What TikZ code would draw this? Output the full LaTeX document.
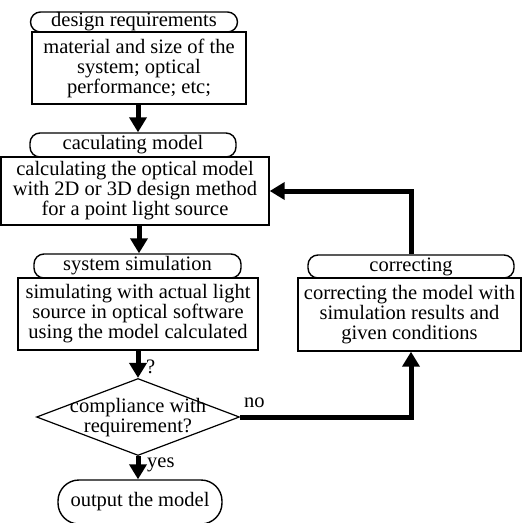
\documentclass[tikz,border=0pt]{standalone}
\usepackage{fontspec}
\setmainfont{Liberation Serif}
\newfontfamily\diagfont{Liberation Serif}
\usetikzlibrary{arrows.meta,shapes.geometric}
\begin{document}
\begin{tikzpicture}[x=1pt,y=-1pt,
  every node/.style={font=\diagfont\fontsize{20.5}{20}\selectfont, inner sep=0pt, align=center},
  pill/.style={draw, line width=1.4pt, rounded corners=10pt},
  box/.style={draw, line width=1.4pt},
  arr/.style={line width=5pt, -{Triangle[length=15pt,width=17pt]}},
  lbl/.style={font=\diagfont\fontsize{20.5}{20}\selectfont}]
\useasboundingbox (0,0) rectangle (522,523);
\node[pill, minimum width=207, minimum height=20] (reqpill) at (134,22) {design requirements};
\node[box, minimum width=214, minimum height=72] (reqbox) at (139,68) {material and size of the\\system; optical\\performance; etc;};
\node[pill, minimum width=206, minimum height=24] (calcpill) at (133,145) {caculating model};
\node[box, minimum width=268, minimum height=68] (calcbox) at (135,191) {calculating the optical model\\with 2D or 3D design method\\for a point light source};
\node[pill, minimum width=207, minimum height=24] (syspill) at (137.5,266) {system simulation};
\node[box, minimum width=240, minimum height=72] (sysbox) at (138,314) {simulating with actual light\\source in optical software\\using the model calculated};
\node[pill, minimum width=206, minimum height=23] (corrpill) at (411,266.5) {correcting};
\node[box, minimum width=223, minimum height=73] (corrbox) at (409.5,314.5) {correcting the model with\\simulation results and\\given conditions};
\node[draw, diamond, line width=1.2pt, minimum width=203, minimum height=77] (dec) at (138,417) {};
\node (dectext) at (138,418) {compliance with\\requirement?};
\node[draw, line width=1.4pt, rounded corners=21pt, minimum width=164, minimum height=44] (outpill) at (140,502) {output the model};
\draw[arr] (reqbox.south -| 138,0) -- (calcpill.north -| 138,0);
\draw[arr] (calcbox.south -| 139,0) -- (syspill.north -| 139,0);
\draw[arr] (sysbox.south) -- (dec.north);
\draw[arr] (dec.south) -- (dec.south |- outpill.north);
\draw[arr] (dec.east) -| (corrbox.south -| corrpill.north);
\draw[arr] (corrpill.north) |- (calcbox.east);
\node[lbl, anchor=west] (q) at (146,367) {?};
\node[lbl, anchor=west] (yes) at (147,465) {yes};
\node[lbl, anchor=west] (no) at (244,403) {no};
\end{tikzpicture}
\end{document}
